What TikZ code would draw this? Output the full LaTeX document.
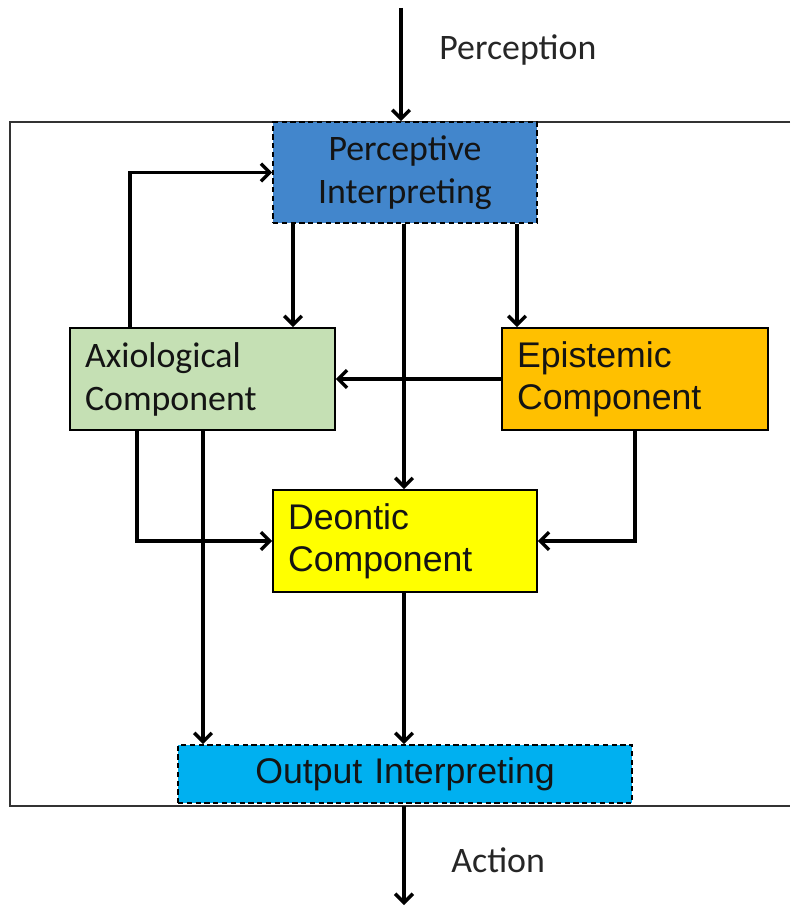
\documentclass[tikz,border=0pt]{standalone}
\usepackage{fontspec}
\setmainfont{Carlito}
\newfontfamily\arialfont{Liberation Sans}
\usetikzlibrary{arrows.meta}

\definecolor{percblue}{RGB}{66,134,204}
\definecolor{axiogreen}{RGB}{197,224,180}
\definecolor{episorange}{RGB}{255,192,0}
\definecolor{deonyellow}{RGB}{255,255,0}
\definecolor{outcyan}{RGB}{0,176,240}
\definecolor{inktext}{RGB}{20,20,20}

\tikzset{
  compbox/.style={draw=black, line width=0.9pt, rectangle, inner xsep=0.3cm, inner ysep=0pt,
    text=inktext, minimum height=2.04cm},
  dashbox/.style={compbox, dashed, dash pattern=on 3pt off 2pt},
  calibtext/.style={font=\fontsize{20.4}{24.5}\selectfont},
  arialtext/.style={font=\arialfont\fontsize{20.3}{24}\selectfont},
  flow/.style={draw=black, line width=2pt, -{Straight Barb[length=5pt,width=10pt,line width=2pt]}},
  frame/.style={draw=black!80, line width=1.2pt},
  caption/.style={font=\fontsize{20.4}{24}\selectfont, text=black!85, anchor=west, inner sep=0pt}
}

\begin{document}
\begin{tikzpicture}[x=0.02cm, y=-0.02cm]
  \useasboundingbox (0,0) rectangle (790,908);

  % outer frame (right side runs off the page)
  \draw[frame] (790,122) -- (10,122) -- (10,806) -- (790,806);

  % components
  \node[dashbox, calibtext, fill=percblue, text width=4.68cm, align=center, minimum height=2.02cm]
    (perc) at (405,172.5) {Perceptive\\Interpreting};
  \node[compbox, calibtext, fill=axiogreen, text width=4.7cm, align=left]
    (axio) at (202.5,379) {Axiological\\Component};
  \node[compbox, arialtext, fill=episorange, text width=4.72cm, align=left]
    (epis) at (635,379) {Epistemic\\Component};
  \node[compbox, arialtext, fill=deonyellow, text width=4.68cm, align=left]
    (deon) at (405,541) {Deontic\\Component};
  \node[dashbox, arialtext, fill=outcyan, text width=8.48cm, align=center, minimum height=1.16cm]
    (outp) at (405,774) {Output Interpreting};

  % external input and output
  \coordinate (pin) at (401,8);
  \coordinate (aout) at (404,806);
  \coordinate (aend) at (404,905);
  \node[caption] (perclabel) at (439,50) {Perception};
  \node[caption] (actlabel) at (451,860) {Action};
  \draw[flow] (pin) -- (pin |- perc.north);
  \draw[flow] (aout) -- (aend);

  % feedback from the axiological component
  \draw[flow] ([xshift=61*0.02cm]axio.north west) |- (perc.west);

  % from perceptive interpreting
  \draw[flow] (perc.south -| 293,0) -- (axio.north -| 293,0);
  \draw[flow] (perc.south -| 517,0) -- (epis.north -| 517,0);
  \draw[flow] (perc.south -| 404,0) -- (deon.north -| 404,0);

  % epistemic to axiological
  \draw[flow] (epis.west) -- (axio.east);

  % into the deontic component
  \draw[flow] (axio.south -| 137,0) |- (deon.west);
  \draw[flow] (epis.south) |- (deon.east);

  % into output interpreting
  \draw[flow] (axio.south -| 203,0) -- (outp.north -| 203,0);
  \draw[flow] (deon.south -| 404,0) -- (outp.north -| 404,0);
\end{tikzpicture}
\end{document}
